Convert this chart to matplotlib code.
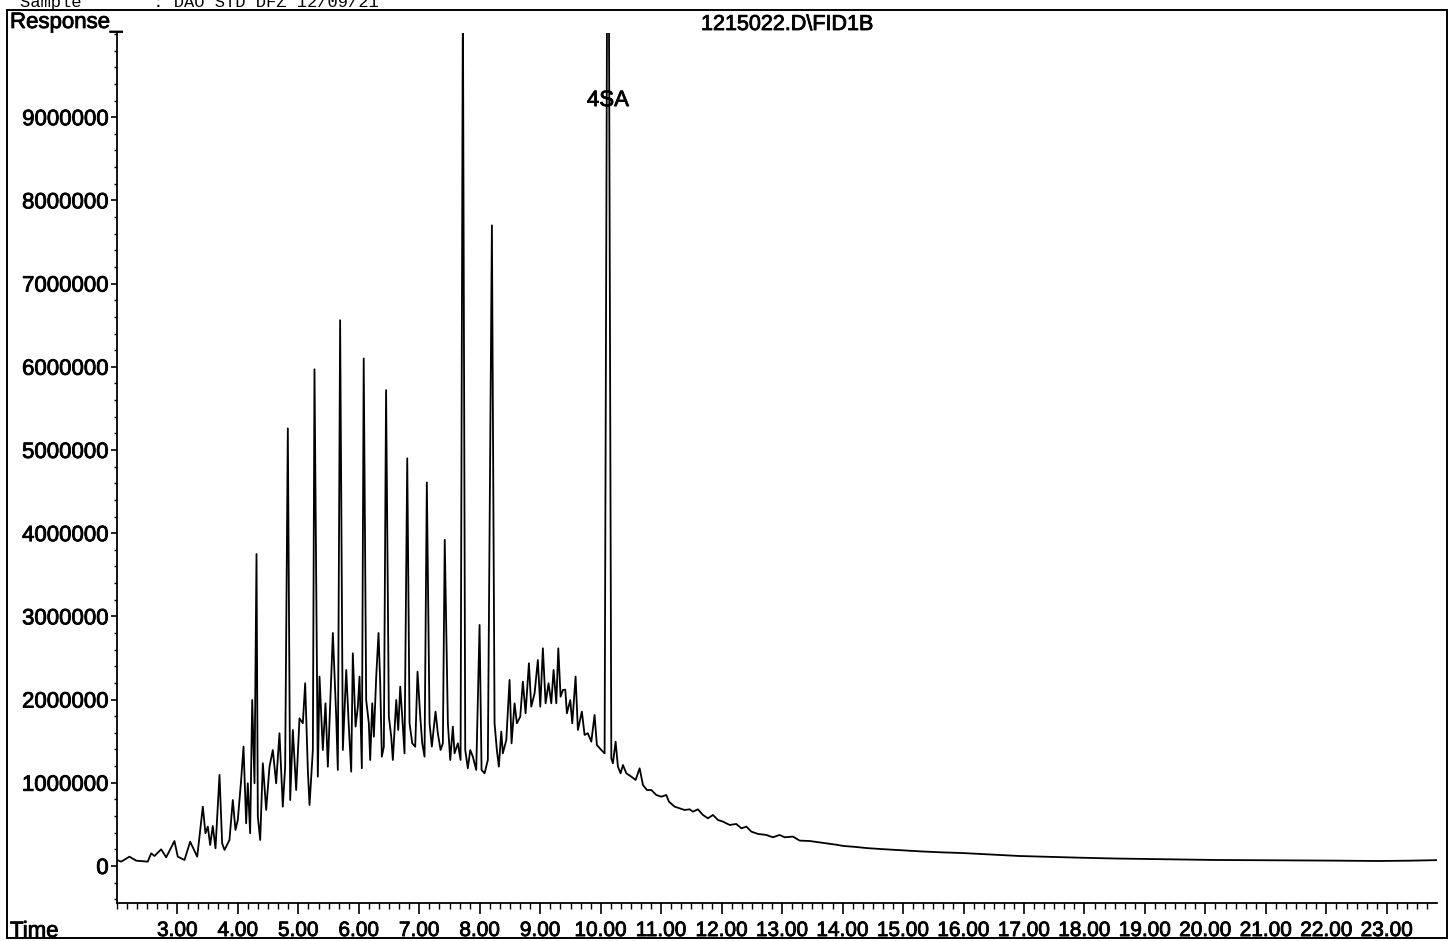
import matplotlib
matplotlib.use('Agg')
import matplotlib.pyplot as plt
import matplotlib.patheffects as pe
from matplotlib.patches import Rectangle
from matplotlib.ticker import MultipleLocator, FixedLocator, FuncFormatter
import numpy as np

# retention time (min) and detector response (millions)
t_front = [2.000, 2.069, 2.206, 2.317, 2.509, 2.565, 2.620, 2.730, 2.813, 2.950,
           3.005, 3.116, 3.210, 3.326, 3.364, 3.419, 3.463, 3.502, 3.541, 3.584,
           3.629, 3.695, 3.739, 3.778, 3.860, 3.915, 3.959, 3.998, 4.053, 4.092,
           4.136, 4.163, 4.202, 4.236, 4.274]
r_front = [0.072, 0.052, 0.112, 0.064, 0.052, 0.152, 0.120, 0.200, 0.104, 0.300,
           0.112, 0.072, 0.292, 0.112, 0.352, 0.713, 0.393, 0.473, 0.252, 0.481,
           0.212, 1.094, 0.272, 0.192, 0.313, 0.793, 0.433, 0.553, 1.034, 1.434,
           0.513, 0.994, 0.393, 1.995, 0.994]

t_series = [4.307, 4.329, 4.368, 4.412, 4.467, 4.522, 4.577, 4.632, 4.687, 4.742,
            4.781, 4.825, 4.864, 4.908, 4.963, 5.018, 5.073, 5.112, 5.156, 5.184,
            5.239, 5.266, 5.321, 5.349, 5.404, 5.448, 5.487, 5.570, 5.625, 5.652,
            5.690, 5.735, 5.791, 5.834, 5.873, 5.900, 5.945, 5.983, 6.011, 6.049,
            6.080, 6.121, 6.165, 6.187, 6.221, 6.248, 6.287, 6.325, 6.353, 6.380,
            6.413, 6.450, 6.496, 6.535, 6.562, 6.618, 6.651, 6.684, 6.717, 6.755,
            6.800, 6.838, 6.883, 6.932, 6.970, 7.015, 7.048, 7.086, 7.124, 7.169,
            7.207, 7.235, 7.268, 7.306, 7.351, 7.389, 7.420, 7.472, 7.511, 7.554,
            7.582, 7.637, 7.682, 7.720, 7.759, 7.802, 7.842, 7.885, 7.941, 7.996,
            8.029, 8.079, 8.133, 8.200]
r_series = [3.750, 0.593, 0.313, 1.234, 0.673, 1.194, 1.394, 0.994, 1.595, 0.713,
            1.194, 5.260, 0.793, 1.635, 0.913, 1.775, 1.715, 2.196, 1.154, 0.733,
            1.394, 5.970, 1.074, 2.276, 1.394, 1.955, 1.194, 2.800, 1.795, 1.154,
            6.560, 1.394, 2.356, 1.675, 1.134, 2.556, 1.675, 1.915, 2.276, 1.174,
            6.100, 1.995, 1.715, 1.274, 1.955, 1.554, 2.276, 2.800, 2.196, 1.314,
            1.434, 5.720, 1.795, 1.554, 1.274, 1.995, 1.635, 2.155, 1.795, 1.354,
            4.900, 1.715, 1.474, 1.434, 2.336, 1.795, 1.474, 1.314, 4.610, 1.715,
            1.434, 1.635, 1.855, 1.595, 1.394, 1.474, 3.920, 1.715, 1.274, 1.675,
            1.354, 1.474, 1.274, 10.500, 1.394, 1.174, 1.394, 1.314, 1.154, 2.897,
            1.154, 1.114, 1.274, 7.700]

t_hump = [8.244, 8.282, 8.315, 8.355, 8.381, 8.438, 8.492, 8.525, 8.575, 8.613,
          8.669, 8.712, 8.757, 8.812, 8.851, 8.906, 8.960, 9.000, 9.043, 9.088,
          9.137, 9.182, 9.220, 9.265, 9.298, 9.336, 9.374, 9.414, 9.440, 9.496,
          9.529, 9.584, 9.622, 9.688, 9.733, 9.787, 9.844, 9.898, 9.936, 10.009,
          10.064, 10.105, 10.135, 10.175, 10.201, 10.246, 10.284, 10.328, 10.367, 10.423,
          10.505, 10.577, 10.643, 10.698, 10.764, 10.836, 10.919, 11.002, 11.084, 11.128,
          11.222, 11.304, 11.387, 11.470, 11.525, 11.607, 11.690, 11.773, 11.856, 11.938,
          12.021, 12.132, 12.242, 12.325, 12.408, 12.491, 12.600, 12.738, 12.848, 12.959,
          13.041, 13.179, 13.290]
r_hump = [1.715, 1.394, 1.194, 1.615, 1.354, 1.514, 2.236, 1.474, 1.955, 1.715,
          1.795, 2.216, 1.835, 2.436, 1.915, 2.075, 2.476, 1.915, 2.616, 1.955,
          2.196, 1.955, 2.356, 1.955, 2.616, 2.035, 2.115, 2.120, 1.835, 1.995,
          1.715, 2.276, 1.635, 1.855, 1.575, 1.595, 1.494, 1.815, 1.454, 1.394,
          1.354, 10.500, 10.500, 1.294, 1.234, 1.494, 1.194, 1.114, 1.214, 1.114,
          1.074, 1.034, 1.174, 0.974, 0.913, 0.913, 0.853, 0.833, 0.853, 0.773,
          0.713, 0.693, 0.673, 0.681, 0.653, 0.681, 0.613, 0.573, 0.613, 0.553,
          0.533, 0.493, 0.505, 0.453, 0.473, 0.413, 0.385, 0.373, 0.345, 0.373,
          0.345, 0.353, 0.305]

t_tail = [13.455, 13.60, 13.75, 13.90, 14.02, 14.20, 14.40, 14.60, 14.94, 15.30,
          15.60, 16.00, 16.40, 16.92, 17.40, 17.90, 18.48, 19.00, 19.60, 20.17,
          20.80, 21.40, 22.00, 22.86, 23.40, 23.82]
r_tail = [0.300, 0.285, 0.270, 0.255, 0.240, 0.230, 0.215, 0.205, 0.190, 0.175,
          0.165, 0.155, 0.140, 0.120, 0.110, 0.100, 0.090, 0.085, 0.078, 0.072,
          0.070, 0.068, 0.065, 0.060, 0.064, 0.070]

y_ticks = [0, 1000000, 2000000, 3000000, 4000000, 5000000,
           6000000, 7000000, 8000000, 9000000]
x_ticks = list(range(3, 24))

times = np.array(t_front + t_series + t_hump + t_tail)
response = np.array(r_front + r_series + r_hump + r_tail) * 1e6

plt.rcParams['font.family'] = ['Liberation Sans', 'DejaVu Sans']
thick = [pe.withStroke(linewidth=0.6, foreground='black')]  # printed look

W, H = 1455, 941
fig = plt.figure(figsize=(W / 100, H / 100), dpi=100)
ax = fig.add_axes([117 / W, 38 / H, (1437 - 117) / W, (903 - 33) / H])

ax.plot(times, response, color='black', linewidth=1.3)

ax.set_xlim(2.0, 23.83)
ax.set_ylim(-445000, 10012000)

for side in ['top', 'right']:
    ax.spines[side].set_visible(False)
for side in ['left', 'bottom']:
    ax.spines[side].set_linewidth(1.3)

ax.yaxis.set_major_locator(FixedLocator(y_ticks))
ax.yaxis.set_minor_locator(MultipleLocator(200000))
ax.yaxis.set_major_formatter(FuncFormatter(lambda v, p: '%d' % v))
ax.xaxis.set_major_locator(FixedLocator(x_ticks))
ax.xaxis.set_minor_locator(FixedLocator(np.arange(2.0, 23.85, 1 / 6)))
ax.xaxis.set_major_formatter(FuncFormatter(lambda v, p: '%.2f' % v))

ax.tick_params(axis='y', which='major', length=4, width=1.2, pad=2, labelsize=16)
ax.tick_params(axis='y', which='minor', length=2.2, width=1.0)
ax.tick_params(axis='x', which='major', length=8, width=1.2, pad=5, labelsize=15)
ax.tick_params(axis='x', which='minor', length=4.3, width=1.0)
for lab in ax.get_xticklabels() + ax.get_yticklabels():
    lab.set_path_effects(thick)

# outer frame of the printout
fig.patches.append(Rectangle((7 / W, 3 / H), (1447 - 7) / W, (938 - 10) / H,
                             transform=fig.transFigure, fill=False,
                             edgecolor='black', linewidth=1.4))

fig.text(10 / W, 1 - 28 / H, 'Response_', fontsize=16, va='baseline',
         path_effects=thick)
fig.text(10 / W, 4 / H, 'Time', fontsize=16, va='baseline', path_effects=thick)
fig.text(787 / W, 1 - 30 / H, '1215022.D\\FID1B', fontsize=15.5,
         ha='center', va='baseline', path_effects=thick)
ax.text(10.12, 9200000, '4SA', fontsize=16, ha='center', va='center',
        path_effects=thick)
# header line of the page, cut off by the top edge as in the scan
fig.text(20 / W, 1 - 7 / H, 'Sample       : DAO STD DFZ 12/09/21',
         fontsize=12.3, family='Liberation Mono', va='baseline')

plt.savefig('out.png', dpi=100)
plt.close()
